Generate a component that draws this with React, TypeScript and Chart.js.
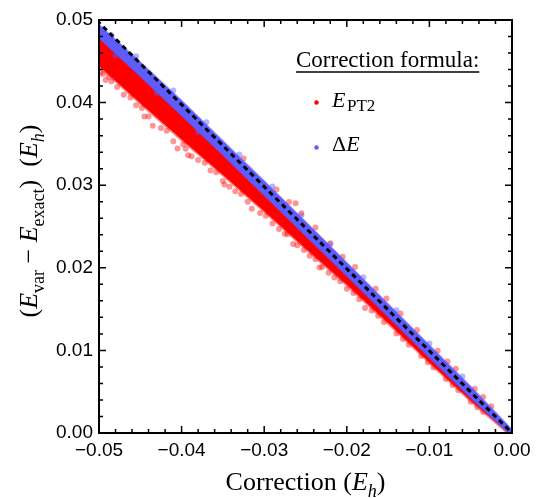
import React, { useEffect, useRef } from "react";
import { Chart, registerables } from "chart.js";
Chart.register(...registerables);

// ---- axis ticks ----
const xTickValues = [-0.05, -0.04, -0.03, -0.02, -0.01, 0];
const xTickLabels = ["\u22120.05", "\u22120.04", "\u22120.03", "\u22120.02", "\u22120.01", "0.00"];
const yTickValues = [0, 0.01, 0.02, 0.03, 0.04, 0.05];
const yTickLabels = ["0.00", "0.01", "0.02", "0.03", "0.04", "0.05"];
const xMinorTicks = [-0.048, -0.046, -0.044, -0.042, -0.038, -0.036, -0.034, -0.032, -0.028, -0.026, -0.024, -0.022, -0.018, -0.016, -0.014, -0.012, -0.008, -0.006, -0.004, -0.002];
const yMinorTicks = [0.002, 0.004, 0.006, 0.008, 0.012, 0.014, 0.016, 0.018, 0.022, 0.024, 0.026, 0.028, 0.032, 0.034, 0.036, 0.038, 0.042, 0.044, 0.046, 0.048];

// ---- dense cores of the two point clouds (upper / lower edges) ----
const bandX = [-0.05, -0.045, -0.04, -0.035, -0.03, -0.025, -0.02, -0.015, -0.01, -0.005, 0];
const blueUpper = [0.04943, 0.04488, 0.04024, 0.03536, 0.03048, 0.02554, 0.0206, 0.0156, 0.0106, 0.0056, 0.0004];
const blueLower = [0.04782, 0.04318, 0.03843, 0.03367, 0.02879, 0.02391, 0.01903, 0.01409, 0.00915, 0.00427, -0.0004];
const redUpper = [0.04794, 0.04331, 0.03867, 0.035, 0.03036, 0.02548, 0.02048, 0.01548, 0.01048, 0.00548, 0.00024];
const redLower = [0.04443, 0.03992, 0.03552, 0.03125, 0.02685, 0.02234, 0.01794, 0.01331, 0.00855, 0.00391, -0.0004];

// ---- scattered points at the cloud edges ----
const redPtsX = [-0.0498, -0.0495, -0.0492, -0.0485, -0.0478, -0.047, -0.0455, -0.044, -0.0435, -0.0425, -0.041, -0.0405, -0.0395, -0.0388, -0.038, -0.0365, -0.035, -0.0342, -0.0335, -0.032, -0.0315, -0.0305, -0.029, -0.0282, -0.0275, -0.0265, -0.026, -0.0245, -0.023, -0.0222, -0.0215, -0.02, -0.0185, -0.017, -0.0155, -0.014, -0.0125, -0.011, -0.0095, -0.008, -0.0065, -0.005, -0.0035,
  -0.0488, -0.0462, -0.0448, -0.0418, -0.0398, -0.0372, -0.0358, -0.0328, -0.0298, -0.0272, -0.0252, -0.0238, -0.0208, -0.0192, -0.0162, -0.0132, -0.0102, -0.0072, -0.0042,
  -0.0445, -0.0392, -0.0348, -0.0233, -0.0178,
  -0.0325, -0.027, -0.0262, -0.0255, -0.022, -0.019, -0.0165, -0.0135, -0.0115, -0.009, -0.0068, -0.0045, -0.0025,
  -0.0285, -0.0238, -0.0205, -0.0152, -0.0078, -0.0035];
const redPtsY = [0.0436, 0.04345, 0.04275, 0.04257, 0.0419, 0.04095, 0.03969, 0.03831, 0.03721, 0.03693, 0.03531, 0.03445, 0.03442, 0.0335, 0.03304, 0.03178, 0.03052, 0.0298, 0.02926, 0.02801, 0.02714, 0.02663, 0.02537, 0.0247, 0.02411, 0.02287, 0.02273, 0.02147, 0.0201, 0.0194, 0.01884, 0.01746, 0.0162, 0.01482, 0.01344, 0.01206, 0.01068, 0.00931, 0.00793, 0.00655, 0.00517, 0.00379, 0.00253,
  0.04311, 0.04063, 0.03935, 0.0366, 0.03496, 0.03272, 0.03156, 0.02893, 0.02629, 0.02405, 0.02217, 0.02102, 0.01838, 0.01696, 0.0142, 0.01138, 0.00857, 0.00581, 0.00311,
  0.03833, 0.03363, 0.03008, 0.02003, 0.01514,
  0.03323, 0.02797, 0.0278, 0.02659, 0.02297, 0.02009, 0.01747, 0.01447, 0.01247, 0.00997, 0.00777, 0.00535, 0.00323,
  0.02947, 0.02489, 0.02135, 0.01629, 0.00865, 0.00435];
const bluePtsX = [-0.0485, -0.0455, -0.041, -0.037, -0.033, -0.029, -0.0255, -0.022, -0.018, -0.014, -0.01, -0.006, -0.048, -0.043, -0.038];
const bluePtsY = [0.04814, 0.04562, 0.04148, 0.03761, 0.03373, 0.02985, 0.02635, 0.02285, 0.01885, 0.01485, 0.01085, 0.00685, 0.0457, 0.04118, 0.03643];

// ---- reference line ----
const refLineX = [-0.05, 0];
const refLineY = [0.0497, 0];

const RED = "rgb(255,0,0)";
const BLUE = "rgb(92,92,255)";
const SERIF = '"Liberation Serif", "Times New Roman", serif';
const SANS = '"Liberation Sans", Arial, sans-serif';

const zip = (xs: number[], ys: number[]) => xs.map((x, i) => ({ x, y: ys[i] }));

type Seg = { t: string; it?: boolean; sub?: boolean };

function segFont(s: Seg, size: number) {
  const sz = s.sub ? Math.round(size * 0.7) : size;
  return `${s.it ? "italic " : ""}${sz}px ${SERIF}`;
}

function drawRich(ctx: CanvasRenderingContext2D, segs: Seg[], x: number, y: number, size: number, align: "left" | "center") {
  let total = 0;
  const widths = segs.map((s) => {
    ctx.font = segFont(s, size);
    const w = ctx.measureText(s.t).width;
    total += w;
    return w;
  });
  let cx = align === "center" ? x - total / 2 : x;
  ctx.textAlign = "left";
  ctx.textBaseline = "alphabetic";
  segs.forEach((s, i) => {
    ctx.font = segFont(s, size);
    ctx.fillText(s.t, cx, y + (s.sub ? size * 0.28 : 0));
    cx += widths[i];
  });
  return total;
}

const decorPlugin = {
  id: "decor",
  afterDraw(chart: any) {
    const ctx: CanvasRenderingContext2D = chart.ctx;
    const { left, right, top, bottom } = chart.chartArea;
    const xs = chart.scales.x;
    const ys = chart.scales.y;
    ctx.save();
    ctx.strokeStyle = "#000";
    ctx.fillStyle = "#000";
    ctx.lineWidth = 1.5;
    const tick = (vals: number[], len: number) => {
      vals.forEach((v) => {
        const px = xs.getPixelForValue(v);
        ctx.beginPath();
        ctx.moveTo(px, bottom);
        ctx.lineTo(px, bottom - len);
        ctx.moveTo(px, top);
        ctx.lineTo(px, top + len);
        ctx.stroke();
      });
    };
    const tickY = (vals: number[], len: number) => {
      vals.forEach((v) => {
        const py = ys.getPixelForValue(v);
        ctx.beginPath();
        ctx.moveTo(left, py);
        ctx.lineTo(left + len, py);
        ctx.moveTo(right, py);
        ctx.lineTo(right - len, py);
        ctx.stroke();
      });
    };
    tick(xTickValues, 7);
    tick(xMinorTicks, 4);
    tickY(yTickValues, 7);
    tickY(yMinorTicks, 4);
    ctx.lineWidth = 2;
    ctx.strokeRect(left, top, right - left, bottom - top);

    // x title
    drawRich(ctx, [{ t: "Correction " }, { t: "(" }, { t: "E", it: true }, { t: "h", it: true, sub: true }, { t: ")" }], (left + right) / 2, 490, 26, "center");

    // y title
    ctx.save();
    ctx.translate(37, 221);
    ctx.rotate(-Math.PI / 2);
    drawRich(
      ctx,
      [
        { t: "(" }, { t: "E", it: true }, { t: "var", sub: true }, { t: " \u2212 " }, { t: "E", it: true }, { t: "exact", sub: true }, { t: ")" },
        { t: "  (" }, { t: "E", it: true }, { t: "h", it: true, sub: true }, { t: ")" },
      ],
      0, 0, 26, "center"
    );
    ctx.restore();

    // legend
    ctx.font = `23px ${SERIF}`;
    ctx.textAlign = "left";
    ctx.textBaseline = "alphabetic";
    const lt = "Correction formula:";
    ctx.fillText(lt, 296, 67);
    const lw = ctx.measureText(lt).width;
    ctx.lineWidth = 1.5;
    ctx.beginPath();
    ctx.moveTo(296, 72);
    ctx.lineTo(296 + lw, 72);
    ctx.stroke();

    ctx.fillStyle = RED;
    ctx.beginPath();
    ctx.arc(316.5, 102.5, 2.2, 0, Math.PI * 2);
    ctx.fill();
    ctx.fillStyle = BLUE;
    ctx.beginPath();
    ctx.arc(316.5, 147.5, 2.2, 0, Math.PI * 2);
    ctx.fill();
    ctx.fillStyle = "#000";
    drawRich(ctx, [{ t: "E", it: true }], 332, 107, 22, "left");
    ctx.font = `17px ${SERIF}`;
    ctx.fillText("PT2", 347, 110.5);
    drawRich(ctx, [{ t: "\u0394" }, { t: "E", it: true }], 332, 151, 22, "left");
    ctx.restore();
  },
};

export default function App() {
  const ref = useRef<HTMLCanvasElement | null>(null);
  useEffect(() => {
    if (!ref.current) return;
    const chart = new Chart(ref.current, {
      type: "scatter",
      data: {
        datasets: [
          {
            type: "line",
            data: zip(refLineX, refLineY),
            borderColor: "#000",
            borderWidth: 3,
            borderDash: [5, 4],
            borderDashOffset: 3,
            pointRadius: 0,
            fill: false,
          } as any,
          {
            data: zip(bluePtsX, bluePtsY),
            backgroundColor: "rgba(92,92,255,0.45)",
            borderWidth: 0,
            pointRadius: 3,
          },
          {
            type: "line",
            data: zip(bandX, blueUpper),
            borderColor: "rgba(92,92,255,0.5)",
            borderWidth: 2,
            pointRadius: 0,
            backgroundColor: BLUE,
            fill: "+1",
          } as any,
          {
            type: "line",
            data: zip(bandX, blueLower),
            borderColor: "rgba(92,92,255,0.5)",
            borderWidth: 2,
            pointRadius: 0,
            fill: false,
          } as any,
          {
            data: zip(redPtsX, redPtsY),
            backgroundColor: "rgba(255,0,0,0.42)",
            borderWidth: 0,
            pointRadius: 3,
          },
          {
            type: "line",
            data: zip(bandX, redUpper),
            borderColor: "rgba(255,0,0,0.4)",
            borderWidth: 2,
            pointRadius: 0,
            backgroundColor: RED,
            fill: "+1",
          } as any,
          {
            type: "line",
            data: zip(bandX, redLower),
            borderColor: "rgba(255,0,0,0.45)",
            borderWidth: 3,
            pointRadius: 0,
            fill: false,
          } as any,
        ],
      },
      options: {
        animation: false,
        responsive: false,
        devicePixelRatio: 1,
        layout: { padding: { top: 20, right: 29, left: 0, bottom: 0 } },
        plugins: { legend: { display: false }, tooltip: { enabled: false } },
        scales: {
          x: {
            type: "linear",
            min: -0.05,
            max: 0,
            afterBuildTicks: (s: any) => {
              s.ticks = xTickValues.map((v) => ({ value: v }));
            },
            afterFit: (s: any) => {
              s.height = 65;
            },
            ticks: {
              callback: (_v: any, i: number) => xTickLabels[i],
              font: { family: SANS, size: 19 },
              color: "#000",
              maxRotation: 0,
              autoSkip: false,
              padding: 6,
            },
            grid: { display: false, drawTicks: false },
            border: { display: false },
          },
          y: {
            type: "linear",
            min: 0,
            max: 0.05,
            afterBuildTicks: (s: any) => {
              s.ticks = yTickValues.map((v) => ({ value: v }));
            },
            afterFit: (s: any) => {
              s.width = 99;
            },
            ticks: {
              callback: (_v: any, i: number) => yTickLabels[i],
              font: { family: SANS, size: 19 },
              color: "#000",
              autoSkip: false,
              padding: 6,
            },
            grid: { display: false, drawTicks: false },
            border: { display: false },
          },
        },
      } as any,
      plugins: [decorPlugin],
    });
    return () => chart.destroy();
  }, []);
  return (
    <div style={{ position: "fixed", left: 0, top: 0, width: 541, height: 498, background: "#fff" }}>
      <canvas ref={ref} width={541} height={498} style={{ width: 541, height: 498, display: "block" }} />
    </div>
  );
}
